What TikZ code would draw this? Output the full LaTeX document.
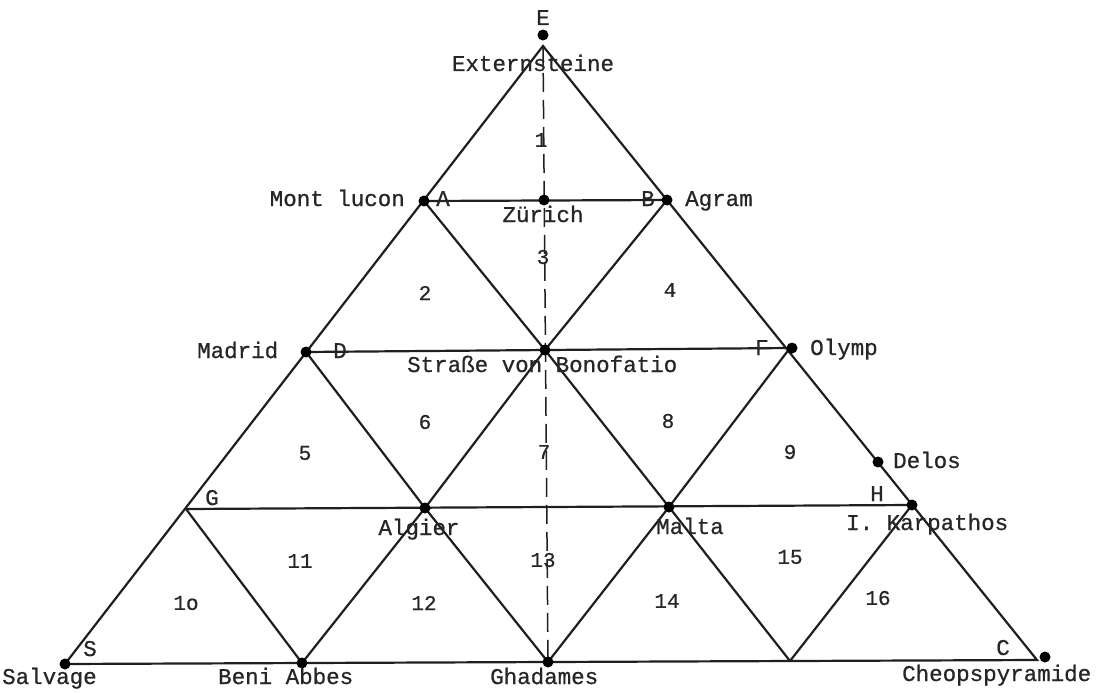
\documentclass[tikz,border=0pt]{standalone}
\usepackage{fontspec}
\newfontfamily\twfont[FakeBold=0.7]{Liberation Mono}
\begin{document}
\begin{tikzpicture}[x=1pt,y=-1pt,
  edge/.style={line width=2.2pt,black!88},
  axis/.style={line width=1.5pt,black!88,dash pattern=on 19pt off 8pt},
  pt/.style={circle,fill=black,inner sep=0pt,minimum size=11pt},
  lbl/.style={inner sep=0pt,font=\twfont\fontsize{22.5}{24}\selectfont,text=black!85},
  num/.style={inner sep=0pt,font=\twfont\fontsize{21}{24}\selectfont,text=black!85}]
\useasboundingbox (0,0) rectangle (1120,693);
% grid vertices
\coordinate (T) at (543,46);
\coordinate (A) at (424,201);
\coordinate (Z) at (544,200);
\coordinate (B) at (667,200);
\coordinate (D) at (306,352);
\coordinate (M) at (545,350);
\coordinate (F) at (790,348);
\coordinate (G) at (186,509);
\coordinate (Al) at (425,508);
\coordinate (Ma) at (669,507);
\coordinate (H) at (912,505);
\coordinate (S) at (65,664);
\coordinate (BA) at (302,663);
\coordinate (Gh) at (548,662);
\coordinate (V) at (790,661);
\coordinate (C) at (1037,660);
\coordinate (Del) at (878,462);
% edges
\draw[edge,line join=miter] (T) -- (S) -- (C) -- cycle;
\draw[edge] (A) -- (B);
\draw[edge] (D) -- (F);
\draw[edge] (G) -- (H);
\draw[edge] (A) -- (M) -- (Ma) -- (V);
\draw[edge] (D) -- (Al) -- (Gh);
\draw[edge] (G) -- (BA);
\draw[edge] (B) -- (M) -- (Al) -- (BA);
\draw[edge] (F) -- (Ma) -- (Gh);
\draw[edge] (H) -- (V);
\draw[axis] (T) -- (Gh);
% dots
\node[pt] (Edot) at (543,35) {};
\node[pt] (Adot) at (A) {};
\node[pt] (Zdot) at (Z) {};
\node[pt] (Bdot) at (B) {};
\node[pt] (Ddot) at (D) {};
\node[pt] (Mdot) at (M) {};
\node[pt] (Fdot) at (792,348) {};
\node[pt] (Deldot) at (Del) {};
\node[pt] (Aldot) at (Al) {};
\node[pt] (Madot) at (Ma) {};
\node[pt] (Hdot) at (H) {};
\node[pt] (Sdot) at (S) {};
\node[pt] (BAdot) at (BA) {};
\node[pt] (Ghdot) at (Gh) {};
\node[pt] (Cdot) at (1045,657) {};
% labels
\node[lbl,anchor=base] (lE) at (543,25) {E};
\node[lbl,anchor=base] (lExt) at (533,71) {Externsteine};
\node[lbl,anchor=base east] (lMont) at (405,206) {Mont lucon};
\node[lbl,anchor=base] (lA) at (443,206) {A};
\node[lbl,anchor=base] (lZ) at (543,222) {Zürich};
\node[lbl,anchor=base] (lB) at (648,206) {B};
\node[lbl,anchor=base west] (lAg) at (685,206) {Agram};
\node[lbl,anchor=base west] (lMad) at (197,358) {Madrid};
\node[lbl,anchor=base] (lD) at (340,358) {D};
\node[lbl,anchor=base west] (lStr) at (407,372) {Straße von Bonofatio};
\node[lbl,anchor=base] (lF) at (762,355) {F};
\node[lbl,anchor=base west] (lOl) at (810,355) {Olymp};
\node[lbl,anchor=base west] (lDel) at (893,468) {Delos};
\node[lbl,anchor=base] (lG) at (212,505) {G};
\node[lbl,anchor=base] (lAl) at (419,535) {Algier};
\node[lbl,anchor=base] (lMa) at (690,534) {Malta};
\node[lbl,anchor=base] (lH) at (877,501) {H};
\node[lbl,anchor=base west] (lKa) at (846,530) {I. Karpathos};
\node[lbl,anchor=base] (lS) at (90,656) {S};
\node[lbl,anchor=base west] (lSal) at (2,684) {Salvage};
\node[lbl,anchor=base west] (lBA) at (218,684) {Beni Abbes};
\node[lbl,anchor=base west] (lGh) at (490,684) {Ghadames};
\node[lbl,anchor=base] (lC) at (1003,655) {C};
\node[lbl,anchor=base west] (lCh) at (902,681) {Cheopspyramide};
% triangle numbers
\node[num] (n1) at (541,140) {1};
\node[num] (n2) at (425,293) {2};
\node[num] (n3) at (543,257) {3};
\node[num] (n4) at (670,290) {4};
\node[num] (n5) at (305,453) {5};
\node[num] (n6) at (425,422) {6};
\node[num] (n7) at (544,452) {7};
\node[num] (n8) at (668,421) {8};
\node[num] (n9) at (790,452) {9};
\node[num] (n10) at (186,603) {1o};
\node[num] (n11) at (300,561) {11};
\node[num] (n12) at (424,603) {12};
\node[num] (n13) at (543,560) {13};
\node[num] (n14) at (667,601) {14};
\node[num] (n15) at (790,557) {15};
\node[num] (n16) at (878,598) {16};
\end{tikzpicture}
\end{document}
